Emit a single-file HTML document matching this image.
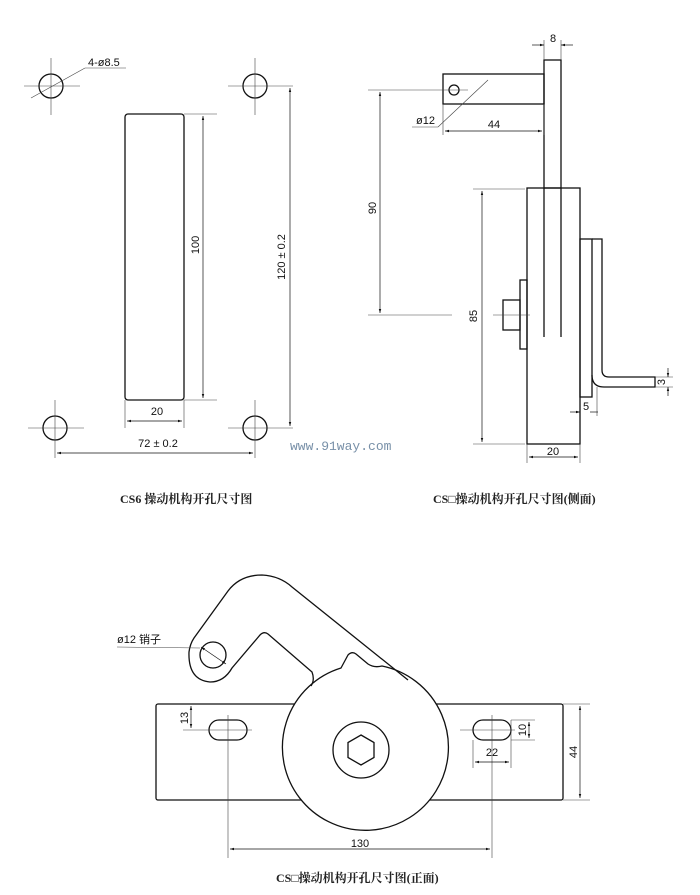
<!DOCTYPE html>
<html><head><meta charset="utf-8"><style>
html,body{margin:0;padding:0;background:#fff;}
svg{display:block;}
text{font-family:"Liberation Sans","Noto Sans CJK SC",sans-serif;fill:#111;}
text.cap{font-family:"Liberation Serif","Noto Serif CJK SC",serif;font-size:12px;font-weight:bold;fill:#222;}
text.wm{font-family:"Liberation Mono",monospace;font-size:13px;fill:#7890a8;}
</style></head><body>
<svg width="700" height="895" viewBox="0 0 700 895" xmlns="http://www.w3.org/2000/svg">
<defs>
<marker id="a" viewBox="0 0 10 10" refX="10" refY="5" markerWidth="6" markerHeight="6" orient="auto-start-reverse"><path d="M0,2 L10,5 L0,8 z" fill="#111"/></marker>
</defs>
<g fill="none" stroke="#111" stroke-width="1.1">
<!-- LEFT VIEW -->
<g stroke-width="1.3">
<circle cx="51" cy="86" r="12"/><circle cx="255" cy="86" r="12"/>
<circle cx="55" cy="428" r="12"/><circle cx="255" cy="428" r="12"/>
<rect x="125" y="114" width="59" height="286" rx="3"/>
</g>
<g stroke-width="0.6" stroke="#444">
<line x1="24" y1="86" x2="80" y2="86"/><line x1="51" y1="58" x2="51" y2="115"/>
<line x1="228" y1="86" x2="293" y2="86"/><line x1="255" y1="58" x2="255" y2="115"/>
<line x1="28" y1="428" x2="84" y2="428"/><line x1="55" y1="400" x2="55" y2="458"/>
<line x1="228" y1="428" x2="293" y2="428"/><line x1="255" y1="400" x2="255" y2="458"/>
<line x1="184" y1="114" x2="217" y2="114"/><line x1="184" y1="400" x2="217" y2="400"/>
<line x1="125" y1="400" x2="125" y2="428"/><line x1="184" y1="400" x2="184" y2="428"/>
<line x1="31" y1="98" x2="85" y2="68"/><line x1="85" y1="68" x2="126" y2="68"/>
</g>
<line x1="203" y1="116" x2="203" y2="398" stroke-width="0.7" marker-start="url(#a)" marker-end="url(#a)"/>
<line x1="290" y1="88" x2="290" y2="426" stroke-width="0.7" marker-start="url(#a)" marker-end="url(#a)"/>
<line x1="127" y1="421" x2="182" y2="421" stroke-width="0.7" marker-start="url(#a)" marker-end="url(#a)"/>
<line x1="57" y1="453" x2="253" y2="453" stroke-width="0.7" marker-start="url(#a)" marker-end="url(#a)"/>

<!-- SIDE VIEW -->
<g stroke-width="1.3">
<rect x="544" y="60" width="17" height="128"/>
<line x1="544" y1="188" x2="544" y2="337"/><line x1="561" y1="188" x2="561" y2="337"/>
<rect x="443" y="74" width="101" height="30"/>
<circle cx="454" cy="90" r="5"/>
<rect x="527" y="188" width="53" height="256"/>
<rect x="580" y="239" width="12" height="158"/>
<path d="M592,239 L602,239 L602,370 Q602,377 609,377 L655,377 L655,387 L604,387 Q592,387 592,375"/>
<rect x="520" y="280" width="7" height="69"/>
<rect x="503" y="300" width="17" height="30"/>
</g>
<g stroke-width="0.6" stroke="#444">
<line x1="368" y1="90" x2="468" y2="90"/>
<line x1="368" y1="315" x2="452" y2="315"/><line x1="493" y1="315" x2="530" y2="315"/>
<line x1="473" y1="189" x2="525" y2="189"/><line x1="473" y1="444" x2="525" y2="444"/>
<line x1="544" y1="40" x2="544" y2="60"/><line x1="561" y1="40" x2="561" y2="60"/>
<line x1="443" y1="104" x2="443" y2="135"/><line x1="544" y1="104" x2="544" y2="135"/>
<line x1="527" y1="444" x2="527" y2="463"/><line x1="580" y1="444" x2="580" y2="463"/>
<line x1="597" y1="387" x2="597" y2="416"/>
<line x1="655" y1="377" x2="673" y2="377"/><line x1="655" y1="387" x2="673" y2="387"/>
<line x1="412" y1="127" x2="438" y2="127"/><line x1="438" y1="127" x2="488" y2="80"/>
</g>
<line x1="380" y1="92" x2="380" y2="313" stroke-width="0.7" marker-start="url(#a)" marker-end="url(#a)"/>
<line x1="482" y1="191" x2="482" y2="442" stroke-width="0.7" marker-start="url(#a)" marker-end="url(#a)"/>
<line x1="529" y1="457" x2="578" y2="457" stroke-width="0.7" marker-start="url(#a)" marker-end="url(#a)"/>
<line x1="445" y1="131" x2="542" y2="131" stroke-width="0.7" marker-start="url(#a)" marker-end="url(#a)"/>
<line x1="532" y1="45" x2="544" y2="45" stroke-width="0.7" marker-end="url(#a)"/>
<line x1="573" y1="45" x2="561" y2="45" stroke-width="0.7" marker-end="url(#a)"/>
<line x1="570" y1="412" x2="580" y2="412" stroke-width="0.7" marker-end="url(#a)"/>
<line x1="598" y1="412" x2="590" y2="412" stroke-width="0.7"/>
<line x1="668" y1="368" x2="668" y2="377" stroke-width="0.7" marker-end="url(#a)"/>
<line x1="668" y1="396" x2="668" y2="387" stroke-width="0.7" marker-end="url(#a)"/>

<!-- FRONT VIEW -->
<g stroke-width="1.3">
<rect x="156" y="704" width="407" height="96" rx="2"/>
<path d="M341,668 L348,655 Q352,651 356,654 L368,664 Q374,668 382,666 A83,83 0 1 1 341,668 Z" fill="#fff"/>
<circle cx="361" cy="750" r="28"/>
<polygon points="361,735 374,742.5 374,757.5 361,765 348,757.5 348,742.5"/>
<rect x="209" y="720" width="38" height="20" rx="10"/>
<rect x="473" y="720" width="38" height="20" rx="10"/>
<path d="M311,686 Q315,680 312,672 L268,634 Q264,631 260,635 L232,668 Q224,682 210,682 Q188,680 189,652 Q190,644 194,638 L228,591 Q240,575 262,575 Q280,576 292,587 L408,680"/>
<circle cx="213" cy="655" r="13"/>
</g>
<g stroke-width="0.6" stroke="#444">
<line x1="228" y1="715" x2="228" y2="858"/><line x1="492" y1="715" x2="492" y2="858"/>
<line x1="183" y1="730" x2="252" y2="730"/><line x1="460" y1="730" x2="515" y2="730"/>
<line x1="473" y1="740" x2="473" y2="768"/><line x1="511" y1="720" x2="511" y2="768"/>
<line x1="511" y1="720" x2="535" y2="720"/><line x1="511" y1="740" x2="535" y2="740"/>
<line x1="563" y1="704" x2="590" y2="704"/><line x1="563" y1="800" x2="590" y2="800"/>
<line x1="117" y1="647" x2="200" y2="648"/>
</g>
<line x1="230" y1="849" x2="490" y2="849" stroke-width="0.7" marker-start="url(#a)" marker-end="url(#a)"/>
<line x1="580" y1="706" x2="580" y2="798" stroke-width="0.7" marker-start="url(#a)" marker-end="url(#a)"/>
<line x1="475" y1="762" x2="509" y2="762" stroke-width="0.7" marker-start="url(#a)" marker-end="url(#a)"/>
<line x1="191" y1="706" x2="191" y2="728" stroke-width="0.7" marker-start="url(#a)" marker-end="url(#a)"/>
<line x1="529" y1="722" x2="529" y2="738" stroke-width="0.7" marker-start="url(#a)" marker-end="url(#a)"/>
<line x1="201" y1="647" x2="226" y2="664" stroke-width="0.7" marker-start="url(#a)" marker-end="url(#a)"/>
</g>

<!-- TEXT -->
<g font-size="11">
<text x="88" y="66">4-ø8.5</text>
<text x="157" y="415" text-anchor="middle">20</text>
<text x="158" y="447" text-anchor="middle">72 ± 0.2</text>
<text transform="translate(199,245) rotate(-90)" text-anchor="middle">100</text>
<text transform="translate(285,257) rotate(-90)" text-anchor="middle">120 ± 0.2</text>
<text x="553" y="42" text-anchor="middle">8</text>
<text x="494" y="128" text-anchor="middle">44</text>
<text x="416" y="124">ø12</text>
<text transform="translate(376,208) rotate(-90)" text-anchor="middle">90</text>
<text transform="translate(477,316) rotate(-90)" text-anchor="middle">85</text>
<text x="553" y="455" text-anchor="middle">20</text>
<text x="586" y="410" text-anchor="middle">5</text>
<text transform="translate(665,382) rotate(-90)" text-anchor="middle">3</text>
<text x="360" y="847" text-anchor="middle">130</text>
<text x="492" y="756" text-anchor="middle">22</text>
<text transform="translate(577,752) rotate(-90)" text-anchor="middle">44</text>
<text transform="translate(188,718) rotate(-90)" text-anchor="middle">13</text>
<text transform="translate(526,730) rotate(-90)" text-anchor="middle">10</text>
<text x="117" y="643">ø12 销子</text>
</g>
<text class="wm" x="290" y="450">www.91way.com</text>
<text class="cap" x="120" y="503">CS6 操动机构开孔尺寸图</text>
<text class="cap" x="433" y="503">CS□操动机构开孔尺寸图(侧面)</text>
<text class="cap" x="276" y="882">CS□操动机构开孔尺寸图(正面)</text>
</svg>
</body></html>
